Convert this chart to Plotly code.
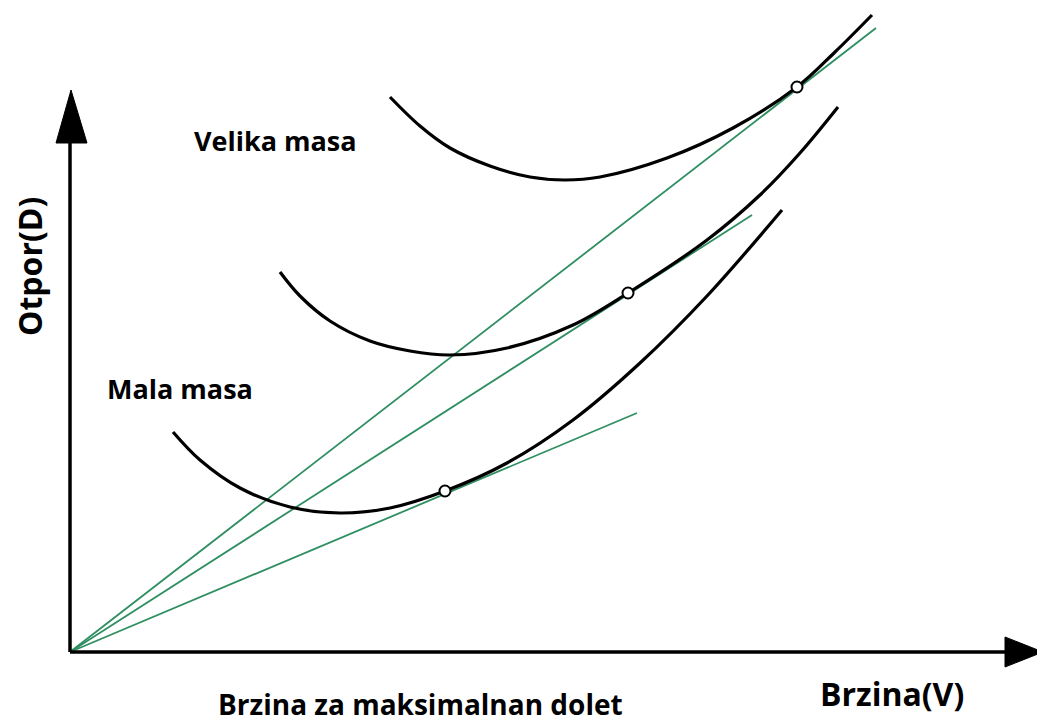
import plotly.graph_objects as go

# Drag curves (arbitrary units: speed V, drag D)
heavy_v = [320, 350, 380, 420, 460, 495, 530, 597, 663, 727, 765, 802]
heavy_d = [555, 526, 504, 486, 475, 472, 475, 494, 524, 565, 600, 637]

mid_v = [210, 230, 260, 300, 340, 380, 437, 503, 558, 637, 690, 730, 768]
mid_d = [380, 356, 331, 311, 301, 297, 304, 327, 359, 412, 457, 499, 545]

light_v = [103, 130, 170, 220, 270, 320, 375, 437, 503, 570, 637, 712]
light_d = [220, 192, 164, 145, 139, 144, 161, 189, 232, 289, 356, 442]

# Tangent lines from origin (end points)
tangent_end_v = [806, 682, 567]
tangent_end_d = [624, 437, 239]

# Tangent points (best range speed)
tp_v = [727, 558, 375]
tp_d = [565, 359, 161]

GREEN = "#2f8f62"
FONT = "Open Sans"

fig = go.Figure()

for ev, ed in zip(tangent_end_v, tangent_end_d):
    fig.add_trace(go.Scatter(x=[0, ev], y=[0, ed], mode="lines",
                             line=dict(color=GREEN, width=1.8), hoverinfo="skip"))

for cv, cd in [(heavy_v, heavy_d), (mid_v, mid_d), (light_v, light_d)]:
    fig.add_trace(go.Scatter(x=cv, y=cd, mode="lines",
                             line=dict(color="black", width=3.2, shape="spline", smoothing=1.0),
                             hoverinfo="skip"))

fig.add_trace(go.Scatter(x=tp_v, y=tp_d, mode="markers",
                         marker=dict(size=11, color="white", line=dict(color="black", width=2)),
                         hoverinfo="skip"))

# Axes with arrow heads
fig.add_shape(type="line", x0=0, y0=0, x1=0, y1=520, line=dict(color="black", width=3.5))
fig.add_shape(type="line", x0=0, y0=0, x1=945, y1=0, line=dict(color="black", width=3.5))
fig.add_shape(type="path", path="M -14,509 L 17,509 L 1,562 Z",
              fillcolor="black", line=dict(color="black", width=1))
fig.add_shape(type="path", path="M 935,15 L 935,-15 L 973,0 Z",
              fillcolor="black", line=dict(color="black", width=1))

fig.add_annotation(x=205, y=512, text="<b>Velika masa</b>", showarrow=False,
                   font=dict(family=FONT, size=27, color="black"))
fig.add_annotation(x=110, y=264, text="<b>Mala masa</b>", showarrow=False,
                   font=dict(family=FONT, size=27, color="black"))
fig.add_annotation(x=-41, y=385, text="<b>Otpor(D)</b>", showarrow=False, textangle=-90,
                   font=dict(family=FONT, size=32, color="black"))
fig.add_annotation(x=822, y=-41, text="<b>Brzina(V)</b>", showarrow=False,
                   font=dict(family=FONT, size=32, color="black"))
fig.add_annotation(x=350, y=-52, text="<b>Brzina za maksimalnan dolet</b>", showarrow=False,
                   font=dict(family=FONT, size=28, color="black"))

# Page body has an 8px margin, so the figure is sized to fill the rest of the window
fig.update_layout(
    width=1037, height=716,
    margin=dict(l=0, r=0, t=0, b=0),
    paper_bgcolor="white", plot_bgcolor="white",
    showlegend=False,
    xaxis=dict(range=[-62, 975], visible=False, fixedrange=True),
    yaxis=dict(range=[-72, 644], visible=False, fixedrange=True),
)

fig.write_html("out.html")
